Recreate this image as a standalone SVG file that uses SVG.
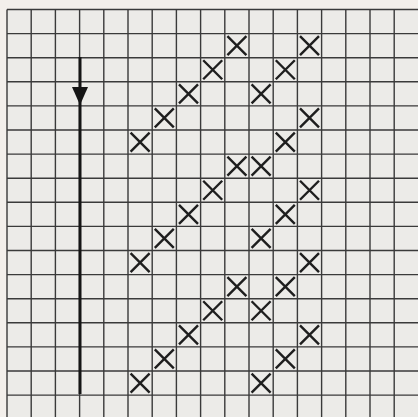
<svg xmlns="http://www.w3.org/2000/svg" xmlns:xlink="http://www.w3.org/1999/xlink" width="418" height="417" viewBox="0 0 418 417">
  <style>
    .grid { stroke: #3a3a3a; stroke-width: 1.4; fill: none; }
    .mark { stroke: #1e1e1e; stroke-width: 2.4; fill: none; stroke-linecap: butt; }
    .arrow { stroke: #151515; stroke-width: 3; fill: none; }
  </style>
  <defs>
    <path id="x" class="mark" d="M-9.5,-9.5 L9.5,9.5 M9.5,-9.5 L-9.5,9.5"/>
  </defs>
  <rect x="0" y="0" width="418" height="417" fill="#f3efeb"/>
  <rect x="7" y="9.5" width="411" height="407.5" fill="#ecebe8"/>
  <g id="grid" class="grid">
    <path d="M7,9.5V417 M31.2,9.5V417 M55.4,9.5V417 M79.6,9.5V417 M103.8,9.5V417 M128,9.5V417 M152.2,9.5V417 M176.4,9.5V417 M200.6,9.5V417 M224.8,9.5V417 M249,9.5V417 M273.2,9.5V417 M297.4,9.5V417 M321.6,9.5V417 M345.8,9.5V417 M370,9.5V417 M394.2,9.5V417"/>
    <path d="M7,9.5H418 M7,33.6H418 M7,57.7H418 M7,81.8H418 M7,105.9H418 M7,130H418 M7,154.1H418 M7,178.2H418 M7,202.3H418 M7,226.4H418 M7,250.5H418 M7,274.6H418 M7,298.7H418 M7,322.8H418 M7,346.9H418 M7,371H418 M7,395.1H418"/>
  </g>
  <g id="marks">
    <use xlink:href="#x" x="236.9" y="45.65"/>
    <use xlink:href="#x" x="309.5" y="45.65"/>
    <use xlink:href="#x" x="212.7" y="69.75"/>
    <use xlink:href="#x" x="285.3" y="69.75"/>
    <use xlink:href="#x" x="188.5" y="93.85"/>
    <use xlink:href="#x" x="261.1" y="93.85"/>
    <use xlink:href="#x" x="164.3" y="117.95"/>
    <use xlink:href="#x" x="309.5" y="117.95"/>
    <use xlink:href="#x" x="140.1" y="142.05"/>
    <use xlink:href="#x" x="285.3" y="142.05"/>
    <use xlink:href="#x" x="236.9" y="166.15"/>
    <use xlink:href="#x" x="261.1" y="166.15"/>
    <use xlink:href="#x" x="212.7" y="190.25"/>
    <use xlink:href="#x" x="309.5" y="190.25"/>
    <use xlink:href="#x" x="188.5" y="214.35"/>
    <use xlink:href="#x" x="285.3" y="214.35"/>
    <use xlink:href="#x" x="164.3" y="238.45"/>
    <use xlink:href="#x" x="261.1" y="238.45"/>
    <use xlink:href="#x" x="140.1" y="262.55"/>
    <use xlink:href="#x" x="309.5" y="262.55"/>
    <use xlink:href="#x" x="236.9" y="286.65"/>
    <use xlink:href="#x" x="285.3" y="286.65"/>
    <use xlink:href="#x" x="212.7" y="310.75"/>
    <use xlink:href="#x" x="261.1" y="310.75"/>
    <use xlink:href="#x" x="188.5" y="334.85"/>
    <use xlink:href="#x" x="309.5" y="334.85"/>
    <use xlink:href="#x" x="164.3" y="358.95"/>
    <use xlink:href="#x" x="285.3" y="358.95"/>
    <use xlink:href="#x" x="140.1" y="383.05"/>
    <use xlink:href="#x" x="261.1" y="383.05"/>
  </g>
  <g id="arrow">
    <path class="arrow" d="M80,57 V394"/>
    <path d="M72,87 L88,87 L80,105 Z" fill="#151515"/>
  </g>
</svg>
